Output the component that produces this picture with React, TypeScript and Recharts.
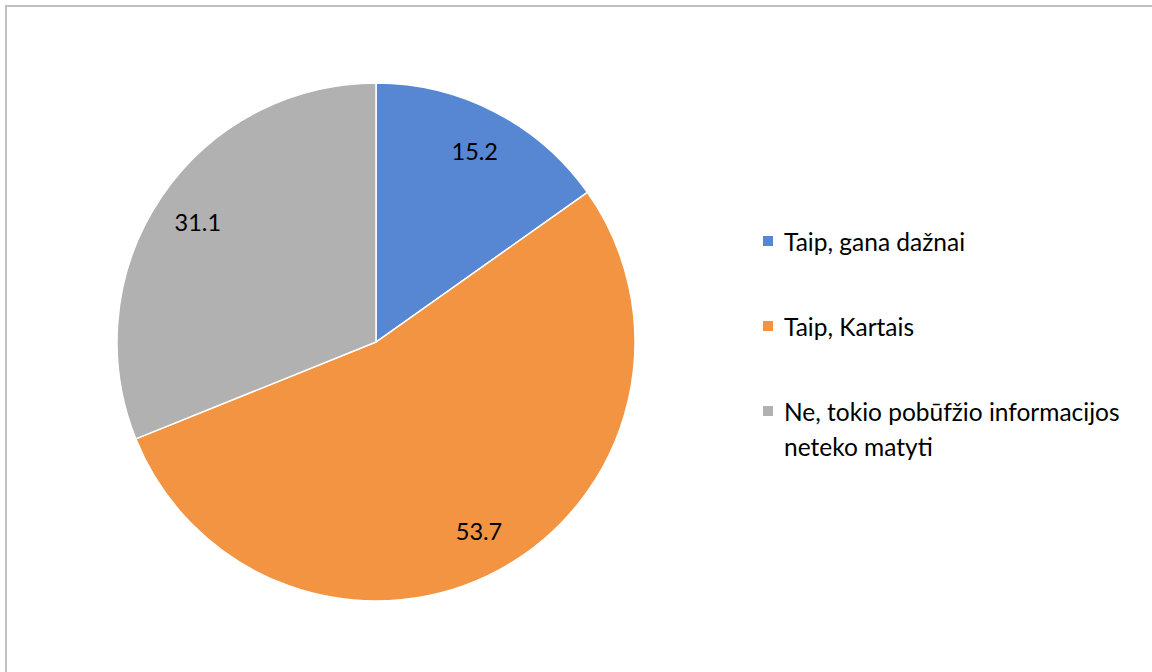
import React from 'react';
import { PieChart, Pie, Cell, Legend } from 'recharts';

const categories = ['Taip, gana dažnai', 'Taip, Kartais', 'Ne, tokio pobūfžio informacijos neteko matyti'];
const values = [15.2, 53.7, 31.1];
const colors = ['#5787d3', '#f29441', '#b1b1b1'];

const data = categories.map((name, i) => ({ name, value: values[i] }));

const FONT = 'Lato, "Open Sans", sans-serif';
const RAD = Math.PI / 180;

function renderLabel(props: any) {
  const { cx, cy, midAngle, outerRadius, value } = props;
  const r = outerRadius * 0.83;
  const x = cx + r * Math.cos(-midAngle * RAD);
  const y = cy + r * Math.sin(-midAngle * RAD);
  return (
    <text x={x} y={y} textAnchor="middle" dominantBaseline="central" fill="#000" fontSize={23.5} fontFamily={FONT}>
      {value.toFixed(1)}
    </text>
  );
}

function renderLegend() {
  return (
    <div style={{ fontFamily: FONT, fontSize: 24.5, color: '#000', lineHeight: '35px' }}>
      {data.map((d, i) => (
        <div key={d.name} style={{ display: 'flex', alignItems: 'flex-start', marginBottom: 50 }}>
          <span style={{ width: 10, height: 10, background: colors[i], marginTop: 12, marginRight: 11, flexShrink: 0 }} />
          <span style={{ width: 358 }}>{d.name}</span>
        </div>
      ))}
    </div>
  );
}

export default function App() {
  return (
    <div style={{ position: 'fixed', left: 0, top: 0, width: 1152, height: 672, background: '#fff', overflow: 'hidden' }}>
      <div style={{ position: 'absolute', left: 5, top: 5, width: 1200, height: 720, borderLeft: '2px solid #c0c0c0', borderTop: '2px solid #c0c0c0' }} />
      <PieChart width={1152} height={672} margin={{ top: 0, right: 0, bottom: 0, left: 0 }} style={{ position: 'absolute', left: 0, top: 0 }}>
        <Pie
          data={data}
          dataKey="value"
          nameKey="name"
          cx={376}
          cy={342}
          outerRadius={259}
          startAngle={90}
          endAngle={-270}
          stroke="#fff"
          strokeWidth={1.5}
          label={renderLabel}
          labelLine={false}
          isAnimationActive={false}
        >
          {data.map((d, i) => (
            <Cell key={d.name} fill={colors[i]} />
          ))}
        </Pie>
        <Legend
          layout="vertical"
          content={renderLegend}
          wrapperStyle={{ left: 763, top: 224, width: 385 }}
        />
      </PieChart>
    </div>
  );
}
